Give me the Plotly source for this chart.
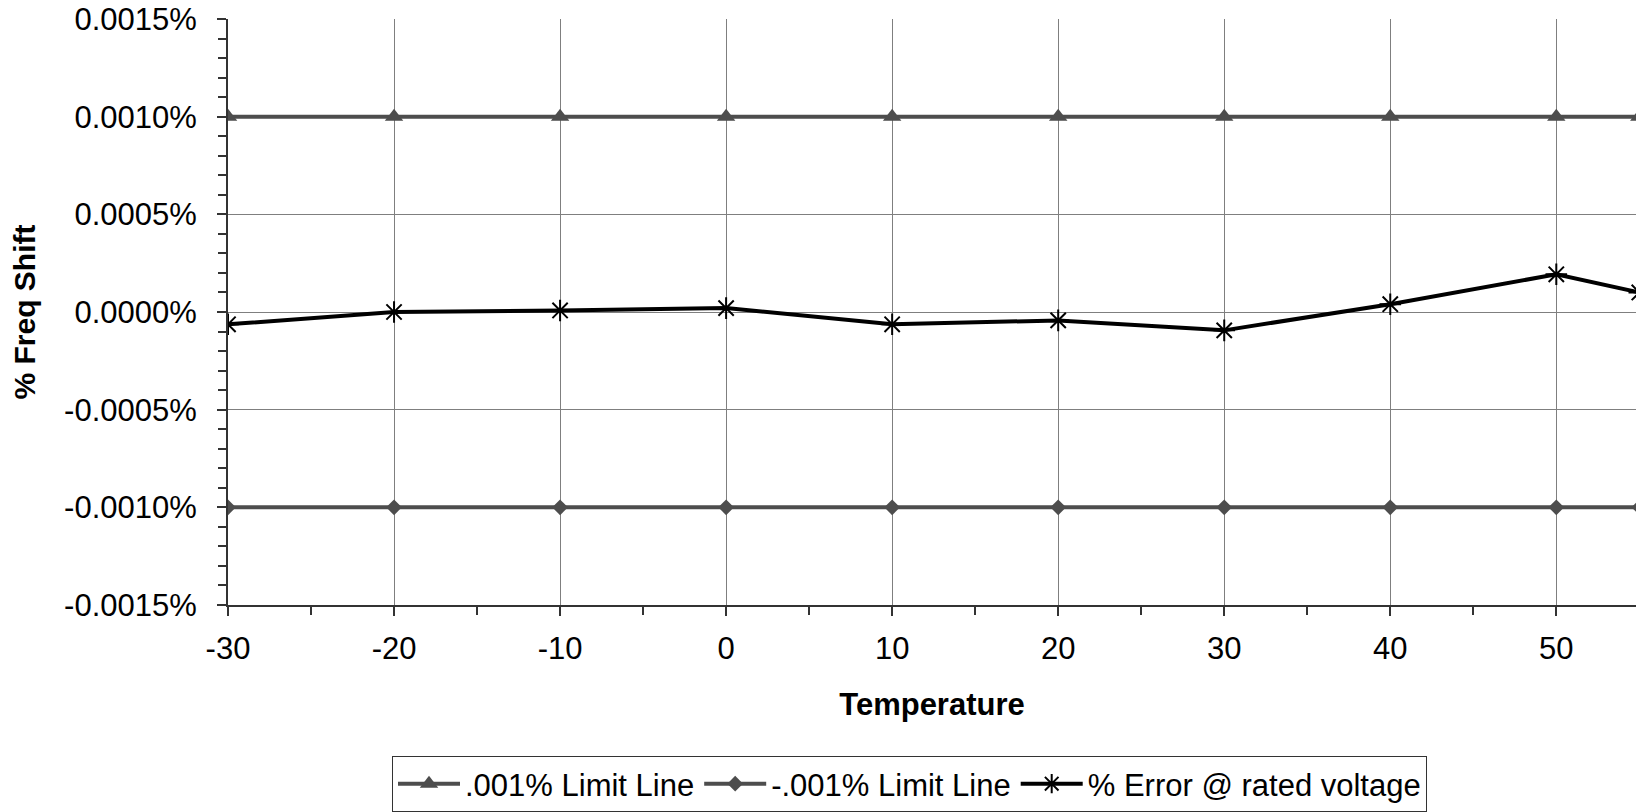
import plotly.graph_objects as go

# ---- data ----
temperature = [-30, -20, -10, 0, 10, 20, 30, 40, 50, 55]
upper_limit = [0.001, 0.001, 0.001, 0.001, 0.001, 0.001, 0.001, 0.001, 0.001, 0.001]
lower_limit = [-0.001, -0.001, -0.001, -0.001, -0.001, -0.001, -0.001, -0.001, -0.001, -0.001]
error_pct = [-0.000063, 0.0, 0.000008, 0.00002, -0.000063, -0.000043, -0.000094, 0.00004, 0.000193, 0.0001]

x_tick_vals = [-30, -20, -10, 0, 10, 20, 30, 40, 50]
x_tick_text = ["-30", "-20", "-10", "0", "10", "20", "30", "40", "50"]
y_tick_vals = [-0.0015, -0.001, -0.0005, 0.0, 0.0005, 0.001, 0.0015]
y_tick_text = ["-0.0015%", "-0.0010%", "-0.0005%", "0.0000%", "0.0005%", "0.0010%", "0.0015%"]

FONT = "Liberation Sans, Arial, sans-serif"
LIMIT_COLOR = "#4d4d4d"

fig = go.Figure()
fig.add_trace(go.Scatter(
    x=temperature, y=upper_limit, name=".001% Limit Line", mode="lines+markers",
    line=dict(color=LIMIT_COLOR, width=4),
    marker=dict(symbol="triangle-up", size=16, color=LIMIT_COLOR),
))
fig.add_trace(go.Scatter(
    x=temperature, y=lower_limit, name="-.001% Limit Line", mode="lines+markers",
    line=dict(color=LIMIT_COLOR, width=4),
    marker=dict(symbol="diamond", size=12, color=LIMIT_COLOR),
))
fig.add_trace(go.Scatter(
    x=temperature, y=error_pct, name="% Error @ rated voltage", mode="lines+markers",
    line=dict(color="#000000", width=4),
    marker=dict(symbol="asterisk-open", size=18, color="#000000",
                line=dict(color="#000000", width=2)),
))

fig.update_layout(
    width=1636, height=812,
    margin=dict(l=228, r=0, t=19, b=207, autoexpand=False),
    paper_bgcolor="white", plot_bgcolor="white",
    font=dict(family=FONT, size=31, color="#000000"),
    showlegend=True,
    legend=dict(
        orientation="h", xref="container", yref="container",
        x=392 / 1636, y=1 - 756 / 812, xanchor="left", yanchor="top",
        bordercolor="#333333", borderwidth=1, bgcolor="white",
        font=dict(family=FONT, size=31, color="#000000"),
        itemwidth=62,
    ),
    xaxis=dict(
        range=[-30, 54.8],
        tickmode="array", tickvals=x_tick_vals, ticktext=x_tick_text,
        ticks="outside", ticklen=9, tickwidth=2, tickcolor="#333333",
        ticklabelstandoff=6,
        minor=dict(tickmode="linear", tick0=-30, dtick=5, ticks="outside",
                   ticklen=8, tickwidth=1.5, tickcolor="#333333", showgrid=False),
        showline=True, linecolor="#333333", linewidth=2,
        showgrid=True, gridcolor="#7f7f7f", gridwidth=1,
        zeroline=False,
        tickfont=dict(family=FONT, size=31),
        title=dict(text="<b>Temperature</b>", standoff=28,
                   font=dict(family=FONT, size=31)),
    ),
    yaxis=dict(
        range=[-0.0015, 0.0015],
        tickmode="array", tickvals=y_tick_vals, ticktext=y_tick_text,
        ticks="outside", ticklen=9, tickwidth=2, tickcolor="#333333",
        ticklabelstandoff=14,
        minor=dict(tickmode="linear", tick0=-0.0015, dtick=0.0001, ticks="outside",
                   ticklen=8, tickwidth=1.5, tickcolor="#333333", showgrid=False),
        showline=True, linecolor="#333333", linewidth=2,
        showgrid=True, gridcolor="#7f7f7f", gridwidth=1,
        zeroline=False,
        tickfont=dict(family=FONT, size=31),
        title=dict(text="<b>% Freq Shift</b>", standoff=20,
                   font=dict(family=FONT, size=30)),
    ),
)

fig.write_html("out.html", config={"displayModeBar": False},
               post_script="document.body.style.margin='0';document.body.style.overflow='hidden';")
